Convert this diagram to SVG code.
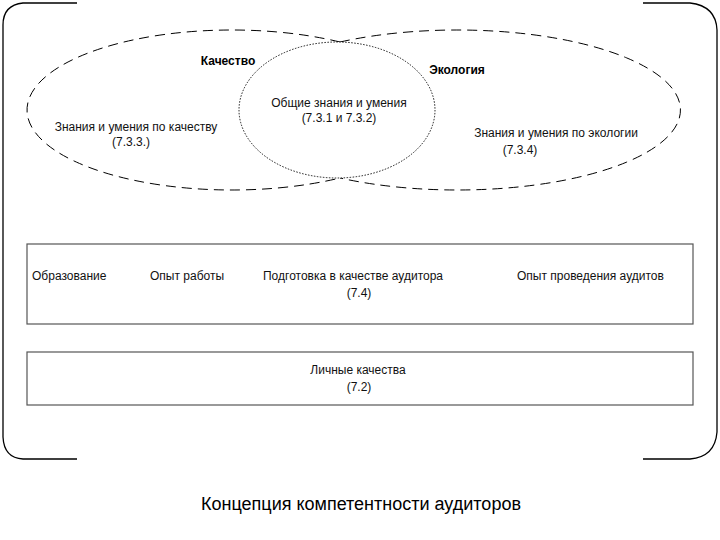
<svg xmlns="http://www.w3.org/2000/svg" width="720" height="540" viewBox="0 0 720 540">
<style>
.frame{fill:none;stroke:#000;stroke-width:1.3}
.outer{fill:none;stroke:#000;stroke-width:1;stroke-dasharray:10,6}
.mid{fill:#fff;stroke:#000;stroke-width:0.9;stroke-dasharray:1.5,1.5}
.box{fill:#fff;stroke:#555;stroke-width:1.2}
text{font-family:"Liberation Sans",Arial,sans-serif;font-size:12px;fill:#111}
.b{font-weight:bold;fill:#000}
.cap{font-size:18px;fill:#000}
</style>
<rect width="720" height="540" fill="#fff"/>
<g id="frame" class="frame">
<path d="M77,3 H23 Q3,5 3,25 V437 Q4,458 23,459 H77"/>
<path d="M643,3 H690 Q716,6 717,30 V432 Q715,457 690,459 H643"/>
</g>
<g id="quality">
<path class="outer" d="M340,42 A205,80 0 1,0 340,178"/>
<text x="228" y="65" text-anchor="middle" class="b">Качество</text>
<text x="136" y="131" text-anchor="middle">Знания и умения по качеству</text>
<text x="131" y="146" text-anchor="middle">(7.3.3.)</text>
</g>
<g id="ecology">
<path class="outer" d="M340,42 A223,80 0 1,1 340,178"/>
<text x="457" y="74" text-anchor="middle" class="b">Экология</text>
<text x="556" y="137" text-anchor="middle">Знания и умения по экологии</text>
<text x="520" y="154" text-anchor="middle">(7.3.4)</text>
</g>
<g id="common">
<ellipse class="mid" cx="337" cy="110" rx="98" ry="68"/>
<text x="339" y="107" text-anchor="middle">Общие знания и умения</text>
<text x="339" y="122" text-anchor="middle">(7.3.1 и 7.3.2)</text>
</g>
<g id="experience">
<rect class="box" x="27" y="244" width="666" height="80"/>
<text x="32" y="280">Образование</text>
<text x="150" y="280">Опыт работы</text>
<text x="353" y="280" text-anchor="middle">Подготовка в качестве аудитора</text>
<text x="359" y="297" text-anchor="middle">(7.4)</text>
<text x="517" y="280">Опыт проведения аудитов</text>
</g>
<g id="personal">
<rect class="box" x="27" y="352" width="666" height="53"/>
<text x="358" y="374" text-anchor="middle">Личные качества</text>
<text x="359" y="391" text-anchor="middle">(7.2)</text>
</g>
<g id="connectors"></g>
<text id="caption" x="361" y="510" text-anchor="middle" class="cap">Концепция компетентности аудиторов</text>
</svg>
